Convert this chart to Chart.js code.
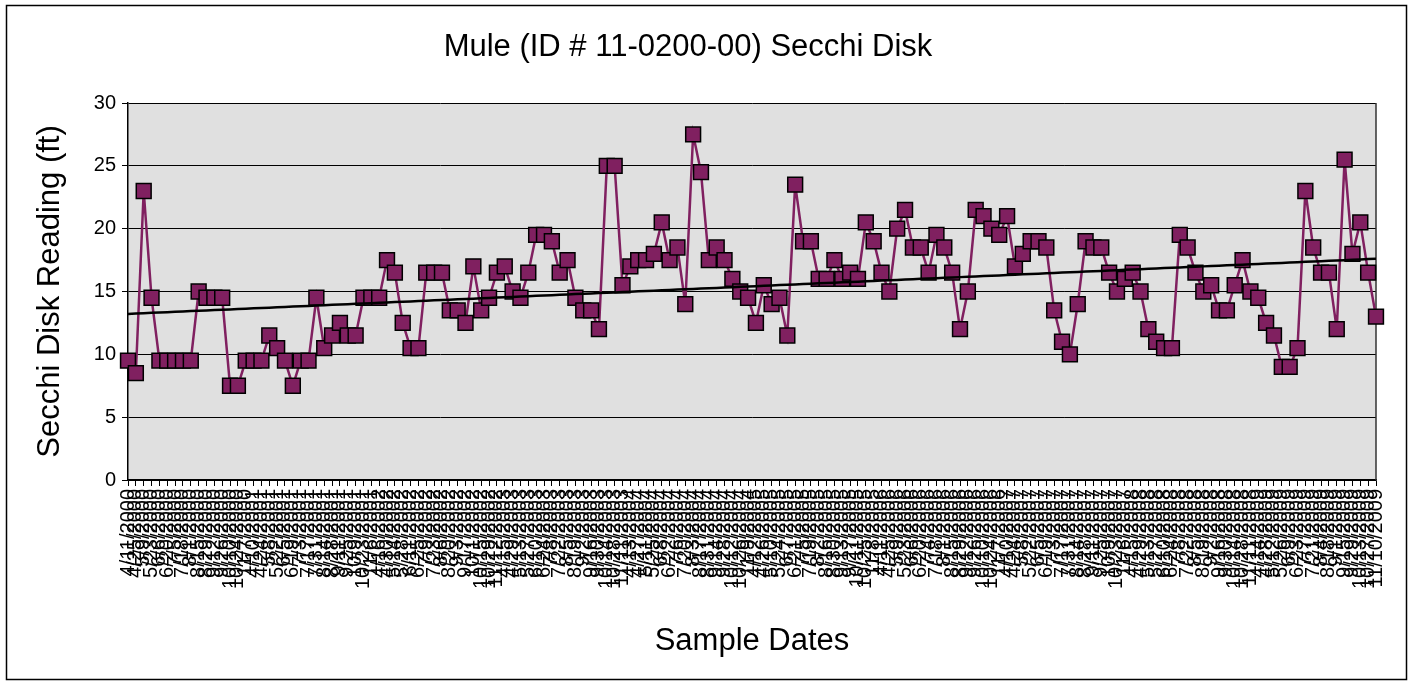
<!DOCTYPE html>
<html>
<head>
<meta charset="utf-8">
<title>Mule Secchi Disk</title>
<script src="https://cdn.jsdelivr.net/npm/chart.js@4.4.1/dist/chart.umd.min.js"></script>
<style>
  html, body { margin: 0; padding: 0; background: #fff; }
  #wrap { width: 1413px; height: 684px; }
</style>
</head>
<body>
<div id="wrap"><canvas id="secchi" width="1413" height="684"></canvas></div>
<script>
// sample dates (category axis)
const sampleDates = [
  '4/11/2000', '4/25/2000', '5/9/2000', '5/23/2000', '6/6/2000', '6/20/2000', '7/5/2000', '7/18/2000', '8/1/2000', '8/15/2000', '8/29/2000', '9/12/2000', '9/26/2000', '10/10/2000', '10/24/2000', '11/7/2000',
  '4/10/2001', '4/24/2001', '5/8/2001', '5/22/2001', '6/5/2001', '6/19/2001', '7/3/2001', '7/17/2001', '7/31/2001', '8/14/2001', '8/28/2001', '9/11/2001', '9/25/2001', '10/9/2001', '10/23/2001', '11/6/2001',
  '4/16/2002', '4/30/2002', '5/14/2002', '5/28/2002', '6/11/2002', '6/25/2002', '7/9/2002', '7/23/2002', '8/6/2002', '8/20/2002', '9/3/2002', '9/17/2002', '10/1/2002', '10/15/2002', '10/29/2002', '11/12/2002',
  '4/15/2003', '4/29/2003', '5/13/2003', '5/27/2003', '6/10/2003', '6/24/2003', '7/8/2003', '7/22/2003', '8/5/2003', '8/19/2003', '9/2/2003', '9/16/2003', '9/30/2003', '10/14/2003', '10/28/2003', '11/11/2003',
  '4/13/2004', '4/27/2004', '5/11/2004', '5/25/2004', '6/8/2004', '6/22/2004', '7/6/2004', '7/20/2004', '8/3/2004', '8/17/2004', '8/31/2004', '9/14/2004', '9/28/2004', '10/12/2004', '10/26/2004', '11/9/2004',
  '4/12/2005', '4/26/2005', '5/10/2005', '5/24/2005', '6/7/2005', '6/21/2005', '7/5/2005', '7/19/2005', '8/2/2005', '8/16/2005', '8/30/2005', '9/13/2005', '9/27/2005', '10/11/2005', '10/25/2005', '11/8/2005',
  '4/11/2006', '4/25/2006', '5/9/2006', '5/23/2006', '6/6/2006', '6/20/2006', '7/4/2006', '7/18/2006', '8/1/2006', '8/15/2006', '8/29/2006', '9/12/2006', '9/26/2006', '10/10/2006', '10/24/2006', '11/7/2006',
  '4/10/2007', '4/24/2007', '5/8/2007', '5/22/2007', '6/5/2007', '6/19/2007', '7/3/2007', '7/17/2007', '7/31/2007', '8/14/2007', '8/28/2007', '9/11/2007', '9/25/2007', '10/9/2007', '10/23/2007', '11/6/2007',
  '4/15/2008', '4/29/2008', '5/13/2008', '5/27/2008', '6/10/2008', '6/24/2008', '7/8/2008', '7/22/2008', '8/5/2008', '8/19/2008', '9/2/2008', '9/16/2008', '9/30/2008', '10/14/2008', '10/28/2008', '11/11/2008',
  '4/14/2009', '4/28/2009', '5/12/2009', '5/26/2009', '6/9/2009', '6/23/2009', '7/7/2009', '7/21/2009', '8/4/2009', '8/18/2009', '9/1/2009', '9/15/2009', '9/29/2009', '10/13/2009', '10/27/2009', '11/10/2009'
];

// secchi readings, ft
const secchiFt = [
  9.5, 8.5, 23, 14.5, 9.5, 9.5, 9.5, 9.5, 9.5, 15, 14.5, 14.5, 14.5, 7.5, 7.5, 9.5, 9.5, 9.5, 11.5, 10.5, 9.5, 7.5, 9.5, 9.5, 14.5, 10.5,
  11.5, 12.5, 11.5, 11.5, 14.5, 14.5, 14.5, 17.5, 16.5, 12.5, 10.5, 10.5, 16.5, 16.5, 16.5, 13.5, 13.5, 12.5, 17, 13.5, 14.5, 16.5, 17, 15, 14.5, 16.5, 19.5,
  19.5, 19, 16.5, 17.5, 14.5, 13.5, 13.5, 12, 25, 25, 15.5, 17, 17.5, 17.5, 18, 20.5, 17.5, 18.5, 14, 27.5, 24.5, 17.5, 18.5, 17.5, 16, 15, 14.5, 12.5,
  15.5, 14, 14.5, 11.5, 23.5, 19, 19, 16, 16, 17.5, 16, 16.5, 16, 20.5, 19, 16.5, 15, 20, 21.5, 18.5, 18.5, 16.5, 19.5, 18.5, 16.5, 12,
  15, 21.5, 21, 20, 19.5, 21, 17, 18, 19, 19, 18.5, 13.5, 11, 10, 14, 19, 18.5, 18.5, 16.5, 15, 16, 16.5, 15, 12, 11, 10.5, 10.5,
  19.5, 18.5, 16.5, 15, 15.5, 13.5, 13.5, 15.5, 17.5, 15, 14.5, 12.5, 11.5, 9, 9, 10.5, 23, 18.5, 16.5, 16.5, 12, 25.5, 18, 20.5, 16.5, 13
];

const yMin = 0;
const yMax = 30;
const yStep = 5;

const FONT = '"Liberation Sans", Arial, sans-serif';

// least squares line, like the excel linear trendline
function linearTrend(values) {
  const n = values.length;
  let sx = 0, sy = 0, sxy = 0, sxx = 0;
  values.forEach((v, i) => {
    sx += i; sy += v; sxy += i * v; sxx += i * i;
  });
  const b = (n * sxy - sx * sy) / (n * sxx - sx * sx);
  const a = (sy - b * sx) / n;
  return values.map((_, i) => a + b * i);
}

const framePlugin = {
  id: 'frame',
  beforeDraw(chart) {
    const { ctx, chartArea: a } = chart;
    ctx.save();
    ctx.fillStyle = '#ffffff';
    ctx.fillRect(0, 0, chart.width, chart.height);
    ctx.fillStyle = '#e0e0e0';
    ctx.fillRect(a.left, a.top, a.right - a.left, a.bottom - a.top);
    ctx.restore();
  },
  beforeDatasetsDraw(chart) {
    const { ctx, chartArea: a } = chart;
    ctx.save();
    ctx.strokeStyle = '#333333';
    ctx.lineWidth = 1.5;
    ctx.beginPath();
    ctx.moveTo(a.right, a.top);
    ctx.lineTo(a.right, a.bottom);
    ctx.stroke();
    ctx.restore();
  },
  afterDraw(chart) {
    const { ctx } = chart;
    ctx.save();
    ctx.strokeStyle = '#000000';
    ctx.lineWidth = 1.5;
    ctx.strokeRect(6.5, 5.5, chart.width - 13, chart.height - 10);
    ctx.restore();
  }
};

new Chart(document.getElementById('secchi'), {
  type: 'line',
  data: {
    labels: sampleDates,
    datasets: [
      {
        label: 'Linear trend',
        data: linearTrend(secchiFt),
        borderColor: '#000000',
        borderWidth: 2.5,
        pointRadius: 0,
        fill: false,
        clip: false,
        order: 0
      },
      {
        label: 'Secchi Disk',
        data: secchiFt,
        borderColor: '#802060',
        borderWidth: 2.5,
        pointStyle: 'rect',
        pointRadius: 10.5,
        pointBackgroundColor: '#802060',
        pointBorderColor: '#000000',
        pointBorderWidth: 1.5,
        tension: 0,
        fill: false,
        clip: false,
        order: 1
      }
    ]
  },
  options: {
    responsive: false,
    animation: false,
    devicePixelRatio: 1,
    layout: {
      padding: { top: 0, right: 37, bottom: 0, left: 0 }
    },
    plugins: {
      legend: { display: false },
      tooltip: { enabled: false },
      title: {
        display: true,
        text: 'Mule (ID # 11-0200-00) Secchi Disk',
        color: '#000000',
        font: { family: FONT, size: 31, weight: 'normal', lineHeight: 1.2 },
        padding: { top: 28.4, bottom: 37.4 }
      }
    },
    scales: {
      x: {
        type: 'category',
        offset: false,
        afterFit(scale) { scale.height = 204; },
        grid: {
          display: true,
          drawOnChartArea: false,
          drawTicks: true,
          tickLength: 6,
          color: '#000000'
        },
        border: { display: true, color: '#000000', width: 1.5 },
        ticks: {
          autoSkip: false,
          maxRotation: 90,
          minRotation: 90,
          padding: 3,
          color: '#000000',
          font: { family: FONT, size: 20 }
        },
        title: {
          display: true,
          text: 'Sample Dates',
          color: '#000000',
          font: { family: FONT, size: 31, lineHeight: 1.2 },
          padding: { top: 0, bottom: 24.4 }
        }
      },
      y: {
        min: yMin,
        max: yMax,
        afterFit(scale) { scale.width = 128; },
        grid: {
          color: '#000000',
          lineWidth: 1,
          drawTicks: true,
          tickLength: 6
        },
        border: { display: true, color: '#000000', width: 1.5 },
        ticks: {
          stepSize: yStep,
          padding: 6,
          color: '#000000',
          font: { family: FONT, size: 20 }
        },
        title: {
          display: true,
          text: 'Secchi Disk Reading (ft)',
          color: '#000000',
          font: { family: FONT, size: 31, lineHeight: 1.2 },
          padding: { top: 31.4, bottom: 0 }
        }
      }
    }
  },
  plugins: [framePlugin]
});
</script>
</body>
</html>
